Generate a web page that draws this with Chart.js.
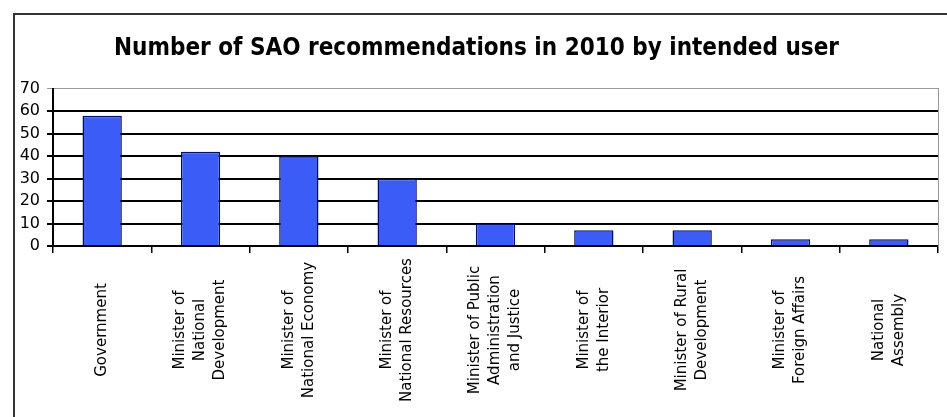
<!DOCTYPE html>
<html>
<head>
<meta charset="utf-8">
<script src="https://cdn.jsdelivr.net/npm/chart.js@4.4.1/dist/chart.umd.min.js"></script>
<style>
    body { margin: 0; background: #fff; overflow: hidden; }
    #frame { position: absolute; left: 13px; top: 13px; width: 960px; height: 430px;
             border-left: 2px solid #333; border-top: 2px solid #333; }
    #wrap { position: absolute; left: 0; top: 0; width: 932px; height: 402px; }
</style>
</head>
<body>
<div id="frame"><div id="wrap"><canvas id="myChartSAO"></canvas></div></div>
<script>
const titulo = 'Number of SAO recommendations in 2010 by intended user'

const usuarios = [
    ['Government'],
    ['Minister of', 'National', 'Development'],
    ['Minister of', 'National Economy'],
    ['Minister of', 'National Resources'],
    ['Minister of Public', 'Administration', 'and Justice'],
    ['Minister of', 'the Interior'],
    ['Minister of Rural', 'Development'],
    ['Minister of', 'Foreign Affairs'],
    ['National', 'Assembly'],
]

const recomendaciones = [58, 42, 40, 30, 10, 7, 7, 3, 3]

const yTicks = [0, 10, 20, 30, 40, 50, 60, 70]

// etiquetas del eje x, giradas y centradas como en Excel
const labelsVerticales = {
    id: 'labelsVerticales',
    afterDraw(chart) {
        const x = chart.scales.x
        const ctx = chart.ctx
        const lh = 20
        const yCentro = 330 - 15
        ctx.save()
        ctx.font = '15px "DejaVu Sans"'
        ctx.fillStyle = '#000'
        ctx.textAlign = 'center'
        ctx.textBaseline = 'middle'
        usuarios.forEach((lineas, i) => {
            const px = x.getPixelForTick(i)
            ctx.save()
            ctx.translate(px, yCentro)
            ctx.rotate(-Math.PI / 2)
            const n = lineas.length
            lineas.forEach((t, j) => {
                ctx.fillText(t, 0, (j - (n - 1) / 2) * lh)
            })
            ctx.restore()
        })
        ctx.restore()
    }
}

const renderChartSAO = () => {
    const data = {
        labels: usuarios.map(l => l.join(' ')),
        datasets: [{
            data: recomendaciones,
            backgroundColor: '#3b5cf7',
            borderColor: '#00106a',
            borderWidth: 1.5,
            categoryPercentage: 1,
            barPercentage: 0.4
        }]
    }
    const options = {
        responsive: true,
        maintainAspectRatio: false,
        animation: false,
        layout: { padding: { left: 0, right: 9, top: 0, bottom: 0 } },
        plugins: {
            legend: { display: false },
            tooltip: { enabled: false },
            title: {
                display: true,
                text: titulo,
                color: '#000',
                font: { family: 'DejaVu Sans Condensed', size: 24, weight: 'bold' },
                padding: { top: 19, bottom: 26 }
            }
        },
        scales: {
            x: {
                ticks: { display: false },
                grid: {
                    offset: true,
                    drawOnChartArea: false,
                    drawTicks: true,
                    tickLength: 7,
                    color: '#000',
                    lineWidth: 1.5
                },
                border: { color: '#000', width: 2 },
                afterFit: s => { s.height = 171 }
            },
            y: {
                min: 0,
                max: 70,
                afterBuildTicks: s => { s.ticks = yTicks.map(v => ({ value: v })) },
                ticks: {
                    color: '#000',
                    padding: 7,
                    font: { family: 'DejaVu Sans', size: 16 }
                },
                grid: {
                    color: ctx => ctx.tick && ctx.tick.value === 70 ? '#999' : '#000',
                    lineWidth: ctx => ctx.tick && ctx.tick.value === 70 ? 1 : 2,
                    tickLength: 6,
                    drawTicks: true
                },
                border: { color: '#000', width: 2 },
                afterFit: s => { s.width = 38 }
            },
            yr: {
                position: 'right',
                min: 0,
                max: 70,
                ticks: { display: false },
                grid: { display: false },
                border: { color: '#999', width: 1 },
                afterFit: s => { s.width = 0 }
            }
        }
    }
    new Chart('myChartSAO', { type: 'bar', data, options, plugins: [labelsVerticales] })
}

renderChartSAO()
</script>
</body>
</html>
